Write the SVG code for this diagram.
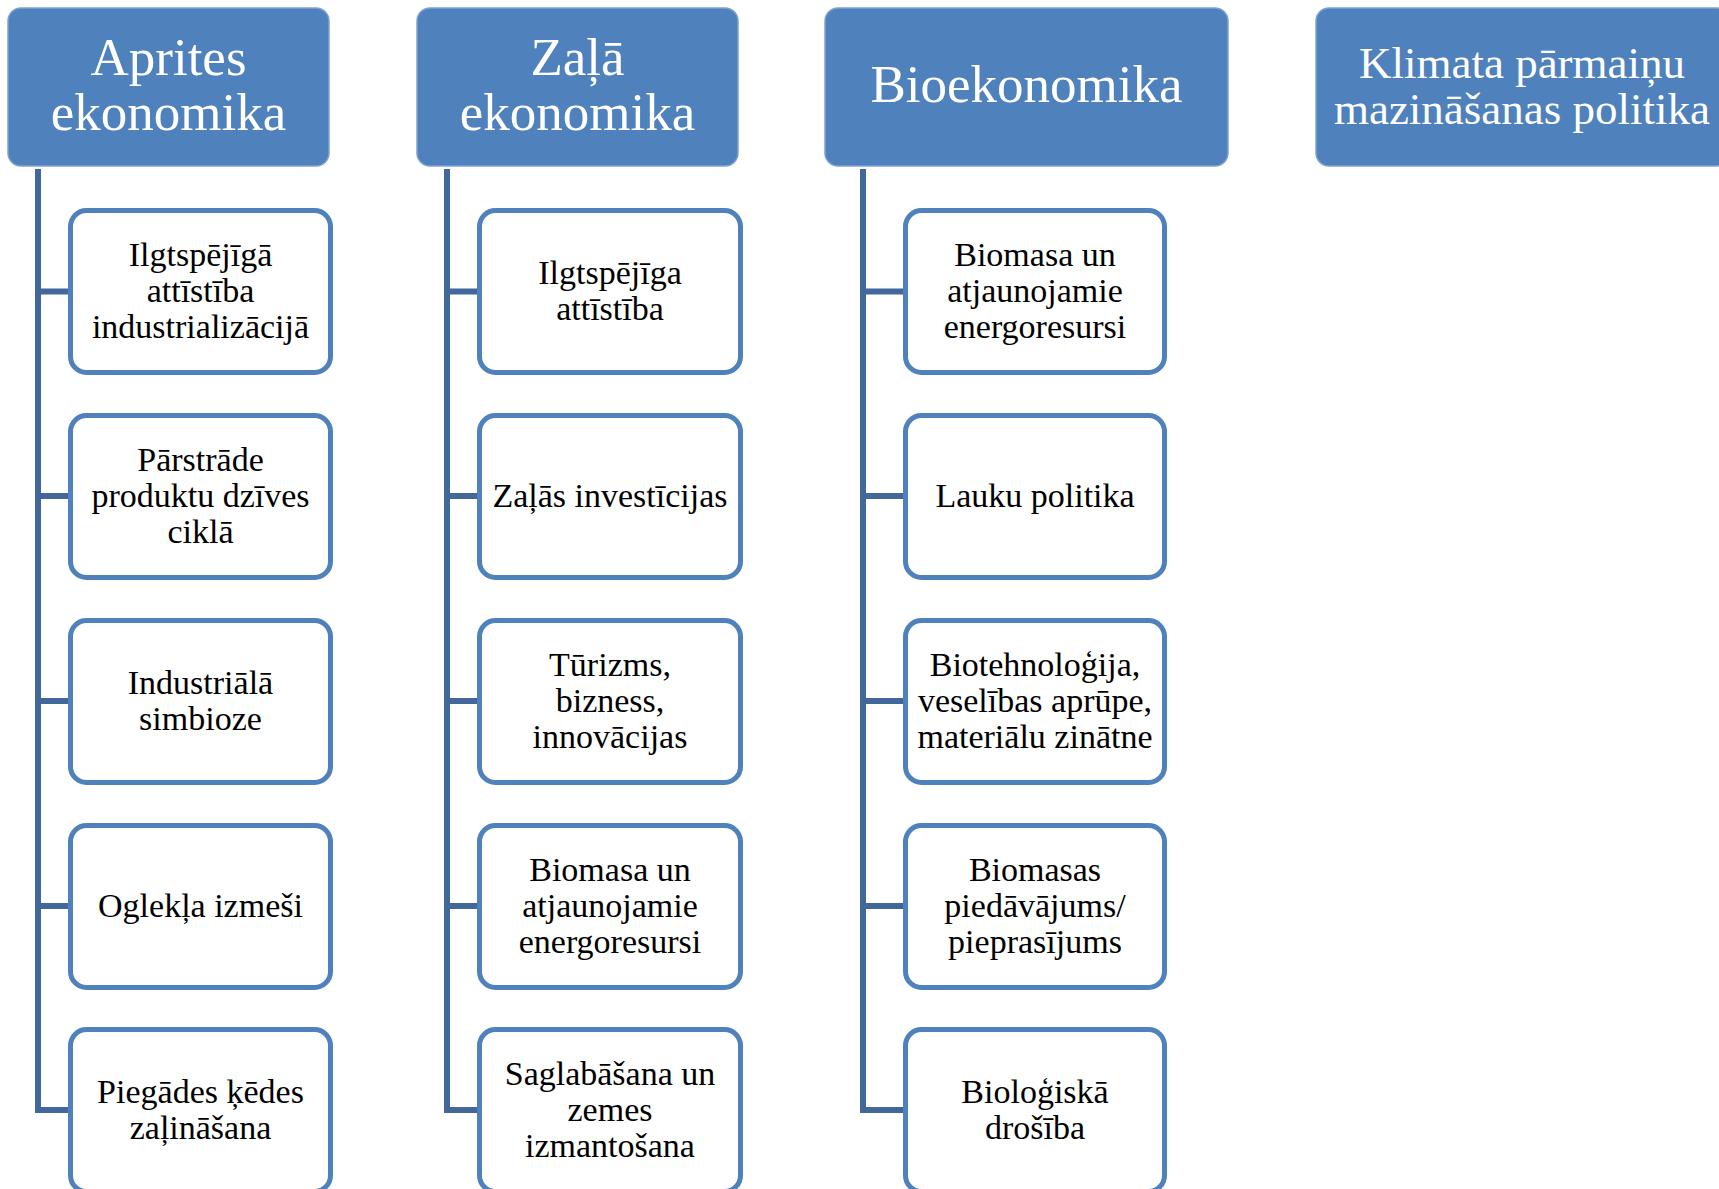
<svg xmlns="http://www.w3.org/2000/svg" width="1719" height="1189" viewBox="0 0 1719 1189">
<style>
.hdr{fill:#4F81BD;stroke:#7FA2CF;stroke-width:1.5}
.ht{font-family:"Liberation Serif","Times New Roman",serif;font-size:53px;fill:#FFFFFF;text-anchor:middle}
.ht2{font-family:"Liberation Serif","Times New Roman",serif;font-size:45px;fill:#FFFFFF;text-anchor:middle}
.box{fill:#FFFFFF;stroke:#4F81BD;stroke-width:5}
.bt{font-family:"Liberation Serif","Times New Roman",serif;font-size:34px;fill:#000000;text-anchor:middle}
.con{fill:none;stroke:#41679B;stroke-width:6;stroke-linejoin:miter}
</style>
<rect width="1719" height="1189" fill="#FFFFFF"/>
<g id="connectors">
<path class="con" d="M38,169 V1110 H68 M38,291.5 H68 M38,496 H68 M38,701 H68 M38,906 H68"/>
<path class="con" d="M447,169 V1110 H477 M447,291.5 H477 M447,496 H477 M447,701 H477 M447,906 H477"/>
<path class="con" d="M863,169 V1110 H903 M863,291.5 H903 M863,496 H903 M863,701 H903 M863,906 H903"/>
</g>
<g id="h1"><rect class="hdr" x="8" y="8" width="321" height="158" rx="13"/><text class="ht" x="168.5" y="75">Aprites</text><text class="ht" x="168.5" y="130">ekonomika</text></g>
<g id="h2"><rect class="hdr" x="417" y="8" width="321" height="158" rx="13"/><text class="ht" x="577.5" y="75">Zaļā</text><text class="ht" x="577.5" y="130">ekonomika</text></g>
<g id="h3"><rect class="hdr" x="825" y="8" width="403" height="158" rx="13"/><text class="ht" x="1026.5" y="102">Bioekonomika</text></g>
<g id="h4"><rect class="hdr" x="1316" y="8" width="414" height="158" rx="13"/><text class="ht2" x="1522" y="78">Klimata pārmaiņu</text><text class="ht2" x="1522" y="124">mazināšanas politika</text></g>

<g id="a1"><rect class="box" x="70.5" y="210.5" width="260" height="162" rx="16"/><text class="bt" x="200.5" y="266">Ilgtspējīgā</text><text class="bt" x="200.5" y="302">attīstība</text><text class="bt" x="200.5" y="338">industrializācijā</text></g>
<g id="a2"><rect class="box" x="70.5" y="415.5" width="260" height="162" rx="16"/><text class="bt" x="200.5" y="470.5">Pārstrāde</text><text class="bt" x="200.5" y="506.5">produktu dzīves</text><text class="bt" x="200.5" y="542.5">ciklā</text></g>
<g id="a3"><rect class="box" x="70.5" y="620.5" width="260" height="162" rx="16"/><text class="bt" x="200.5" y="693.5">Industriālā</text><text class="bt" x="200.5" y="729.5">simbioze</text></g>
<g id="a4"><rect class="box" x="70.5" y="825.5" width="260" height="162" rx="16"/><text class="bt" x="200.5" y="916.5">Oglekļa izmeši</text></g>
<g id="a5"><rect class="box" x="70.5" y="1029.5" width="260" height="162" rx="16"/><text class="bt" x="200.5" y="1102.5">Piegādes ķēdes</text><text class="bt" x="200.5" y="1138.5">zaļināšana</text></g>

<g id="z1"><rect class="box" x="479.5" y="210.5" width="261" height="162" rx="16"/><text class="bt" x="610" y="284">Ilgtspējīga</text><text class="bt" x="610" y="320">attīstība</text></g>
<g id="z2"><rect class="box" x="479.5" y="415.5" width="261" height="162" rx="16"/><text class="bt" x="610" y="506.5">Zaļās investīcijas</text></g>
<g id="z3"><rect class="box" x="479.5" y="620.5" width="261" height="162" rx="16"/><text class="bt" x="610" y="675.5">Tūrizms,</text><text class="bt" x="610" y="711.5">bizness,</text><text class="bt" x="610" y="747.5">innovācijas</text></g>
<g id="z4"><rect class="box" x="479.5" y="825.5" width="261" height="162" rx="16"/><text class="bt" x="610" y="880.5">Biomasa un</text><text class="bt" x="610" y="916.5">atjaunojamie</text><text class="bt" x="610" y="952.5">energoresursi</text></g>
<g id="z5"><rect class="box" x="479.5" y="1029.5" width="261" height="162" rx="16"/><text class="bt" x="610" y="1084.5">Saglabāšana un</text><text class="bt" x="610" y="1120.5">zemes</text><text class="bt" x="610" y="1156.5">izmantošana</text></g>

<g id="b1"><rect class="box" x="905.5" y="210.5" width="259" height="162" rx="16"/><text class="bt" x="1035" y="266">Biomasa un</text><text class="bt" x="1035" y="302">atjaunojamie</text><text class="bt" x="1035" y="338">energoresursi</text></g>
<g id="b2"><rect class="box" x="905.5" y="415.5" width="259" height="162" rx="16"/><text class="bt" x="1035" y="506.5">Lauku politika</text></g>
<g id="b3"><rect class="box" x="905.5" y="620.5" width="259" height="162" rx="16"/><text class="bt" x="1035" y="675.5">Biotehnoloģija,</text><text class="bt" x="1035" y="711.5">veselības aprūpe,</text><text class="bt" x="1035" y="747.5">materiālu zinātne</text></g>
<g id="b4"><rect class="box" x="905.5" y="825.5" width="259" height="162" rx="16"/><text class="bt" x="1035" y="880.5">Biomasas</text><text class="bt" x="1035" y="916.5">piedāvājums/</text><text class="bt" x="1035" y="952.5">pieprasījums</text></g>
<g id="b5"><rect class="box" x="905.5" y="1029.5" width="259" height="162" rx="16"/><text class="bt" x="1035" y="1102.5">Bioloģiskā</text><text class="bt" x="1035" y="1138.5">drošība</text></g>
</svg>
